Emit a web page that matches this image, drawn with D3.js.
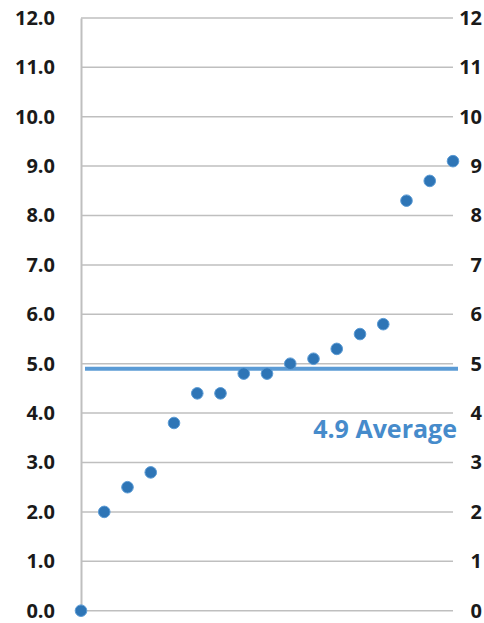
<!DOCTYPE html>
<html>
<head>
<meta charset="utf-8">
<script src="https://cdn.jsdelivr.net/npm/d3@7"></script>
<style>
  html, body { margin: 0; padding: 0; background: #fff; }
  svg { display: block; }
  text { font-family: "Open Sans", "Liberation Sans", sans-serif; }
</style>
</head>
<body>
<svg id="chart" width="484" height="623"></svg>
<script>
// Scores in ascending order, one per position along the x axis
const positions = [0, 1, 2, 3, 4, 5, 6, 7, 8, 9, 10, 11, 12, 13, 14, 15, 16];
const scores = [0.0, 2.0, 2.5, 2.8, 3.8, 4.4, 4.4, 4.8, 4.8, 5.0, 5.1, 5.3, 5.6, 5.8, 8.3, 8.7, 9.1];
const averageScore = [4.9];
const leftTicks = [0, 1, 2, 3, 4, 5, 6, 7, 8, 9, 10, 11, 12];
const rightTicks = [0, 1, 2, 3, 4, 5, 6, 7, 8, 9, 10, 11, 12];

const svg = d3.select("#chart");

const x = d3.scaleLinear().domain([0, 16]).range([81, 453]);
const y = d3.scaleLinear().domain([0, 12]).range([610.7, 17.9]);

// Horizontal gridlines
svg.append("g")
  .selectAll("line")
  .data(leftTicks)
  .join("line")
  .attr("x1", x(0)).attr("x2", x(16))
  .attr("y1", d => y(d)).attr("y2", d => y(d))
  .attr("stroke", "#bfbfbf")
  .attr("stroke-width", 1.5);

// Left value axis
const leftAxis = svg.append("g")
  .attr("transform", `translate(${x(0)},0)`)
  .call(d3.axisLeft(y).tickValues(leftTicks).tickFormat(d3.format(".1f")).tickSize(0).tickPadding(26));
leftAxis.select(".domain").attr("stroke", "#bfbfbf").attr("stroke-width", 2);
leftAxis.selectAll("text")
  .attr("font-size", 20).attr("font-weight", 700).attr("fill", "#1a1a1a")
  .attr("font-family", "'Open Sans', sans-serif");

// Right value axis, labels flush right
const rightAxis = svg.append("g")
  .attr("transform", `translate(${x(16)},0)`)
  .call(d3.axisRight(y).tickValues(rightTicks).tickFormat(d3.format("d")).tickSize(0).tickPadding(29));
rightAxis.select(".domain").remove();
rightAxis.selectAll("text")
  .attr("text-anchor", "end")
  .attr("font-size", 20).attr("font-weight", 700).attr("fill", "#1a1a1a")
  .attr("font-family", "'Open Sans', sans-serif");

// Average line and its label
svg.append("g")
  .selectAll("line")
  .data(averageScore)
  .join("line")
  .attr("x1", x(0) + 4).attr("x2", x(16) + 5)
  .attr("y1", d => y(d)).attr("y2", d => y(d))
  .attr("stroke", "#5b9bd5")
  .attr("stroke-width", 4);

svg.append("g")
  .selectAll("text")
  .data(averageScore)
  .join("text")
  .attr("x", 457)
  .attr("y", 438)
  .attr("text-anchor", "end")
  .attr("font-size", 25)
  .attr("font-weight", 700)
  .attr("fill", "#468bcb")
  .text(d => `${d3.format(".1f")(d)} Average`);

// Score points
svg.append("g")
  .selectAll("circle")
  .data(positions)
  .join("circle")
  .attr("cx", i => x(i))
  .attr("cy", i => y(scores[i]))
  .attr("r", 5.8)
  .attr("fill", "#2e75b6")
  .attr("stroke", "#5b9bd5")
  .attr("stroke-width", 1);
</script>
</body>
</html>
